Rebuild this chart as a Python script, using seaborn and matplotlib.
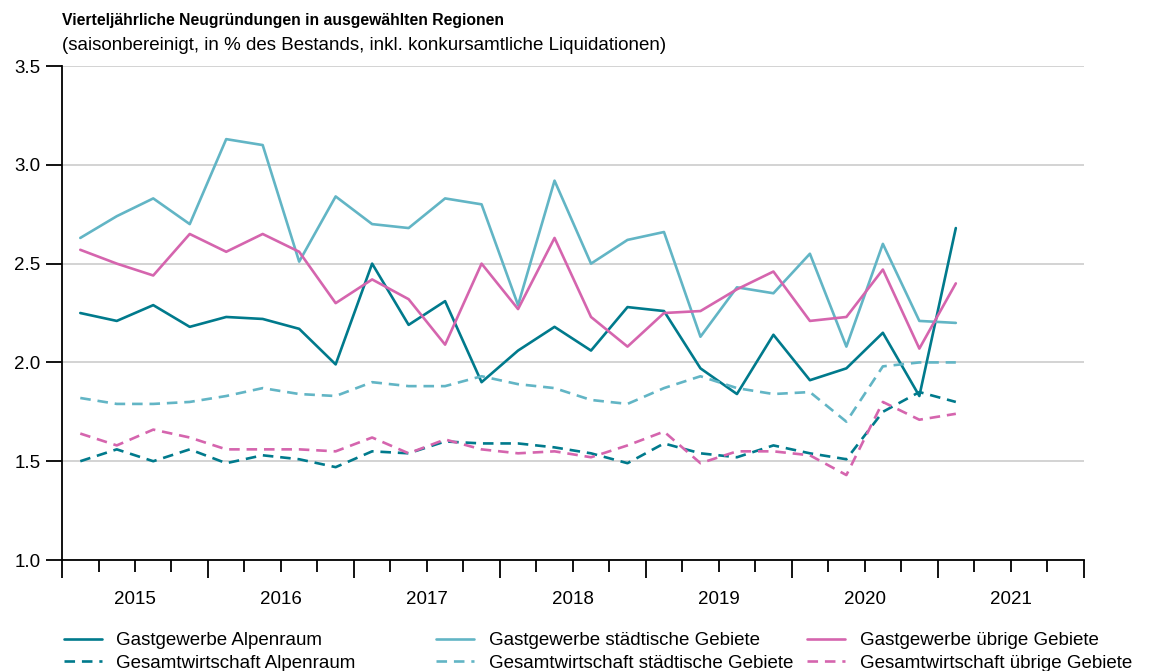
"""
Quarterly business start-ups (Neugründungen) in selected regions, 2015-2021.
"""
import numpy as np
import pandas as pd
import matplotlib
matplotlib.use("Agg")
import matplotlib.pyplot as plt
import seaborn as sns

# ── data ──────────────────────────────────────────────────────────────────────
quarters = [f"{y}Q{q}" for y in range(2015, 2021) for q in range(1, 5)] + ["2021Q1"]

gast_alpen = [2.25, 2.21, 2.29, 2.18, 2.23, 2.22, 2.17, 1.99, 2.50, 2.19, 2.31,
              1.90, 2.06, 2.18, 2.06, 2.28, 2.26, 1.97, 1.84, 2.14, 1.91, 1.97,
              2.15, 1.83, 2.68]
gast_stadt = [2.63, 2.74, 2.83, 2.70, 3.13, 3.10, 2.51, 2.84, 2.70, 2.68, 2.83,
              2.80, 2.29, 2.92, 2.50, 2.62, 2.66, 2.13, 2.38, 2.35, 2.55, 2.08,
              2.60, 2.21, 2.20]
gast_uebrig = [2.57, 2.50, 2.44, 2.65, 2.56, 2.65, 2.56, 2.30, 2.42, 2.32, 2.09,
               2.50, 2.27, 2.63, 2.23, 2.08, 2.25, 2.26, 2.37, 2.46, 2.21, 2.23,
               2.47, 2.07, 2.40]
ges_alpen = [1.50, 1.56, 1.50, 1.56, 1.49, 1.53, 1.51, 1.47, 1.55, 1.54, 1.60,
             1.59, 1.59, 1.57, 1.54, 1.49, 1.59, 1.54, 1.52, 1.58, 1.54, 1.51,
             1.75, 1.85, 1.80]
ges_stadt = [1.82, 1.79, 1.79, 1.80, 1.83, 1.87, 1.84, 1.83, 1.90, 1.88, 1.88,
             1.93, 1.89, 1.87, 1.81, 1.79, 1.87, 1.93, 1.87, 1.84, 1.85, 1.70,
             1.98, 2.00, 2.00]
ges_uebrig = [1.64, 1.58, 1.66, 1.62, 1.56, 1.56, 1.56, 1.55, 1.62, 1.54, 1.61,
              1.56, 1.54, 1.55, 1.52, 1.58, 1.65, 1.49, 1.55, 1.55, 1.53, 1.43,
              1.80, 1.71, 1.74]

years = list(range(2015, 2022))
ytick_vals = [1.0, 1.5, 2.0, 2.5, 3.0, 3.5]

TEAL = "#007A8C"
LIGHT = "#62B5C5"
PINK = "#D565AE"

series = [
    ("Gastgewerbe Alpenraum", gast_alpen, TEAL, "-"),
    ("Gesamtwirtschaft Alpenraum", ges_alpen, TEAL, "--"),
    ("Gastgewerbe städtische Gebiete", gast_stadt, LIGHT, "-"),
    ("Gesamtwirtschaft städtische Gebiete", ges_stadt, LIGHT, "--"),
    ("Gastgewerbe übrige Gebiete", gast_uebrig, PINK, "-"),
    ("Gesamtwirtschaft übrige Gebiete", ges_uebrig, PINK, "--"),
]

# quarter midpoints on a continuous year axis
xpos = np.array([int(q[:4]) + (int(q[-1]) - 0.5) / 4 for q in quarters])

sns.set_style("white")
plt.rcParams["font.family"] = ["Liberation Sans", "DejaVu Sans"]
plt.rcParams["text.color"] = "black"
plt.rcParams["xtick.color"] = "black"
plt.rcParams["ytick.color"] = "black"

fig = plt.figure(figsize=(11.49, 6.71), dpi=100)
ax = fig.add_axes([0.054, 0.1654, 0.889, 0.7362])

for label, vals, color, ls in series:
    df = pd.DataFrame({"x": xpos, "y": vals})
    sns.lineplot(data=df, x="x", y="y", ax=ax, color=color, linewidth=1.9,
                 label=label, linestyle=ls, legend=False)
for line in ax.get_lines():
    if line.get_linestyle() == "--":
        line.set_dashes((4, 2.6))

ax.set_xlim(2015, 2022)
ax.set_ylim(1.0, 3.5)
ax.set_yticks(ytick_vals)
ax.set_yticklabels([f"{v:.1f}" for v in ytick_vals], fontsize=13.5)
ax.yaxis.grid(True, color="#D0D0D0", linewidth=1.3)
ax.xaxis.grid(False)
ax.set_xlabel("")
ax.set_ylabel("")

# quarter ticks (long ones at year boundaries), year labels in between
ax.xaxis.remove_overlapping_locs = False
qticks = np.arange(2015, 2022.01, 0.25)
ax.set_xticks(qticks)
ax.set_xticklabels([""] * len(qticks))
ax.set_xticks([y + 0.5 for y in years], [str(y) for y in years], minor=True)
ax.tick_params(axis="x", which="major", bottom=True, direction="out",
               length=8.6, width=1.3, color="black")
ax.tick_params(axis="x", which="minor", bottom=True, labelbottom=True,
               length=0, pad=22, labelsize=13.5, labelcolor="black")
ax.tick_params(axis="y", left=True, direction="out", length=11.5, width=1.3,
               color="black", labelcolor="black", pad=4)
for t, pos in zip(ax.xaxis.get_major_ticks(), qticks):
    if abs(pos - round(pos)) < 1e-6:
        t.tick1line.set_markersize(13)

for s in ["top", "right"]:
    ax.spines[s].set_visible(False)
for s in ["left", "bottom"]:
    ax.spines[s].set_color("black")
    ax.spines[s].set_linewidth(1.3)

fig.text(0.054, 1 - 20 / 671, "Vierteljährliche Neugründungen in ausgewählten Regionen",
         fontsize=11.3, fontweight="bold", va="center", ha="left", color="black")
fig.text(0.054, 1 - 45 / 671,
         "(saisonbereinigt, in % des Bestands, inkl. konkursamtliche Liquidationen)",
         fontsize=13.5, va="center", ha="left", color="black")

# legend: three fixed columns of two entries each
handles = ax.get_lines()
col_x = [64, 436, 807]
for k, x0 in enumerate(col_x):
    fig.legend(handles=handles[2 * k:2 * k + 2],
               labels=[s[0] for s in series[2 * k:2 * k + 2]],
               loc="upper left", bbox_to_anchor=(x0 / 1149, 1 - 632 / 671),
               frameon=False, fontsize=13.5, handlelength=2.0, labelcolor="black",
               handletextpad=0.8, labelspacing=0.3, borderaxespad=0, borderpad=0)

fig.savefig("out.png", dpi=100)
